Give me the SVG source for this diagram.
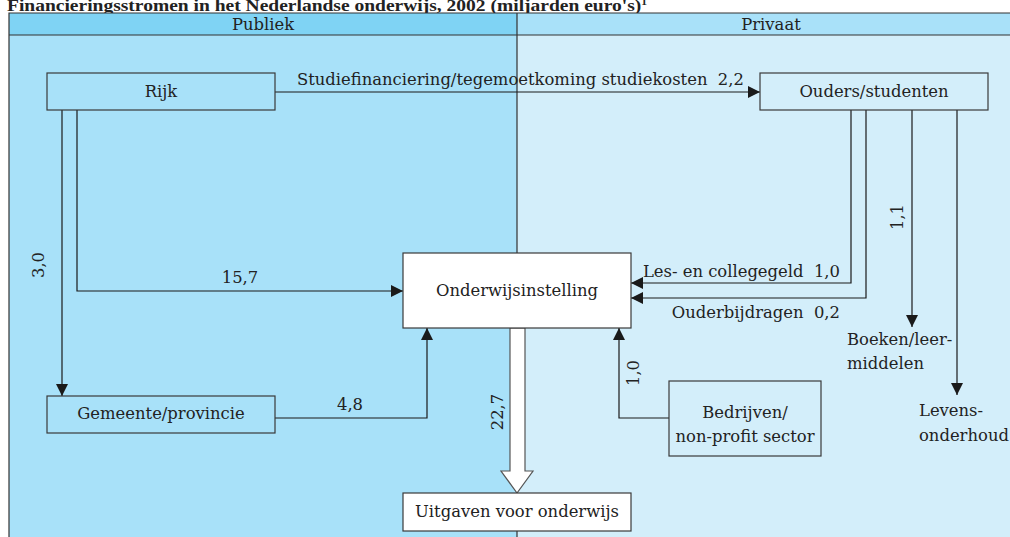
<svg xmlns="http://www.w3.org/2000/svg" width="1010" height="537" viewBox="0 0 1010 537">
<defs>
<marker id="ah" markerUnits="userSpaceOnUse" markerWidth="12" markerHeight="12" refX="12" refY="6" orient="auto">
<path d="M0,0 L12,6 L0,12 z" fill="#1a1a1a"/>
</marker>
<style>
text{font-family:"DejaVu Serif","Liberation Serif",serif;fill:#222;font-size:16.4px}
.box{stroke:#3a3a3a;stroke-width:1.2}
.blue{fill:#a8e1f9}
.lite{fill:#d3eefa}
.white{fill:#fff}
.c{stroke:#1a1a1a;stroke-width:1.2;fill:none}
.m{text-anchor:middle}
</style>
</defs>
<rect width="1010" height="537" fill="#fff"/>
<text x="7" y="11" textLength="640" lengthAdjust="spacingAndGlyphs" style="font-weight:bold;font-size:17px;font-family:'Liberation Serif',serif" fill="#111">Financieringsstromen in het Nederlandse onderwijs, 2002 (miljarden euro's)<tspan dy="-6" font-size="10">1</tspan></text>
<g id="frame">
<rect x="9" y="35" width="508" height="510" fill="#a8e1f9"/>
<rect x="517" y="35" width="500" height="510" fill="#d3eefa"/>
<rect x="9" y="13" width="508" height="22" fill="#7fd3f4"/>
<rect x="517" y="13" width="500" height="22" fill="#a9e1f9"/>
<path d="M9,545 V13 H1010 M9,35 H1010 M517,13 V545" stroke="#333" stroke-width="1.2" fill="none"/>
<text x="263" y="30" class="m">Publiek</text>
<text x="771" y="30" class="m">Privaat</text>
</g>
<g id="connectors">
<path class="c" d="M275,92 H760" marker-end="url(#ah)"/>
<path class="c" d="M62,110 V396" marker-end="url(#ah)"/>
<path class="c" d="M77,110 V291 H403" marker-end="url(#ah)"/>
<path class="c" d="M275,418 H427 V328" marker-end="url(#ah)"/>
<path class="c" d="M669,418 H619 V328" marker-end="url(#ah)"/>
<path class="c" d="M851,110 V283 H631" marker-end="url(#ah)"/>
<path class="c" d="M866,110 V298 H631" marker-end="url(#ah)"/>
<path class="c" d="M912,110 V327" marker-end="url(#ah)"/>
<path class="c" d="M957,110 V395" marker-end="url(#ah)"/>
<polygon points="510,328 525,328 525,471 533,471 517,493 501,471 510,471" fill="#fff" stroke="#555" stroke-width="1.2"/>
<text x="297" y="85" xml:space="preserve">Studiefinanciering/tegemoetkoming studiekosten  2,2</text>
<text x="240" y="283" class="m">15,7</text>
<text x="350" y="410" class="m">4,8</text>
<text transform="translate(44,265) rotate(-90)" class="m">3,0</text>
<text transform="translate(503,412) rotate(-90)" class="m">22,7</text>
<text transform="translate(639,373) rotate(-90)" class="m">1,0</text>
<text transform="translate(903,217) rotate(-90)" class="m">1,1</text>
<text x="840" y="277" text-anchor="end" xml:space="preserve">Les- en collegegeld  1,0</text>
<text x="840" y="318" text-anchor="end" xml:space="preserve">Ouderbijdragen  0,2</text>
<text x="847" y="345">Boeken/leer-</text>
<text x="847" y="369">middelen</text>
<text x="919" y="416">Levens-</text>
<text x="919" y="441">onderhoud</text>
</g>
<g id="rijk">
<rect class="box blue" x="47" y="73" width="228" height="37"/>
<text x="161" y="97" class="m">Rijk</text>
</g>
<g id="ouders">
<rect class="box lite" x="760" y="73" width="228" height="37"/>
<text x="874" y="97" class="m">Ouders/studenten</text>
</g>
<g id="onderwijsinstelling">
<rect class="box white" x="403" y="253" width="228" height="75"/>
<text x="517" y="296" class="m">Onderwijsinstelling</text>
</g>
<g id="gemeente">
<rect class="box blue" x="47" y="396" width="228" height="37"/>
<text x="161" y="419" class="m">Gemeente/provincie</text>
</g>
<g id="bedrijven">
<rect class="box lite" x="669" y="381" width="152" height="75"/>
<text x="745" y="418" class="m">Bedrijven/</text>
<text x="745" y="442" class="m">non-profit sector</text>
</g>
<g id="uitgaven">
<rect class="box white" x="403" y="493" width="228" height="38"/>
<text x="517" y="517" class="m">Uitgaven voor onderwijs</text>
</g>
</svg>
